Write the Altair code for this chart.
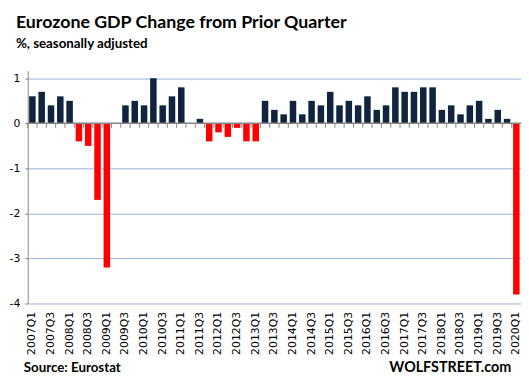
import altair as alt
import pandas as pd

quarters = [f"{y}Q{q}" for y in range(2007, 2021) for q in range(1, 5)][:53]
values = [
    0.6, 0.7, 0.4, 0.6,      # 2007
    0.5, -0.4, -0.5, -1.7,   # 2008
    -3.2, 0.0, 0.4, 0.5,     # 2009
    0.4, 1.0, 0.4, 0.6,      # 2010
    0.8, 0.0, 0.1, -0.4,     # 2011
    -0.2, -0.3, -0.1, -0.4,  # 2012
    -0.4, 0.5, 0.3, 0.2,     # 2013
    0.5, 0.2, 0.5, 0.4,      # 2014
    0.7, 0.4, 0.5, 0.4,      # 2015
    0.6, 0.3, 0.4, 0.8,      # 2016
    0.7, 0.7, 0.8, 0.8,      # 2017
    0.3, 0.4, 0.2, 0.4,      # 2018
    0.5, 0.1, 0.3, 0.1,      # 2019
    -3.8,                    # 2020
]
shown_labels = [q for q in quarters if q.endswith("Q1") or q.endswith("Q3")]
y_ticks = [1, 0, -1, -2, -3, -4]

title_text = "Eurozone GDP Change from Prior Quarter"
subtitle_text = "%, seasonally adjusted"
source_text = "Source: Eurostat"
brand_text = "WOLFSTREET.com"

df = pd.DataFrame({"quarter": quarters, "value": values})
df["sign"] = ["neg" if v < 0 else "pos" for v in values]

W, H = 500, 236
step = W / 53.0

xscale = alt.Scale(domain=quarters, paddingInner=0.3, paddingOuter=0.15)
yscale = alt.Scale(domain=[-4, 1.17], nice=False, zero=False)

bars = alt.Chart(df).mark_bar().encode(
    x=alt.X("quarter:N", scale=xscale, sort=quarters, title=None,
            axis=alt.Axis(values=shown_labels, labelAngle=-90, labelPadding=8,
                          labelFont="DejaVu Sans", labelFontSize=11, labelColor="#000000",
                          ticks=False, domain=False, grid=False)),
    y=alt.Y("value:Q", scale=yscale, title=None,
            axis=alt.Axis(values=y_ticks, labelExpr="'' + datum.value",
                          labelFont="DejaVu Sans", labelFontSize=11,
                          labelColor="#000000", labelPadding=5, tickSize=3,
                          tickColor="#868686", domainColor="#868686",
                          grid=True, gridColor="#95B3D7", gridWidth=1)),
    color=alt.Color("sign:N", scale=alt.Scale(domain=["pos", "neg"],
                                              range=["#10243E", "#FF0000"]), legend=None),
)

zero_df = pd.DataFrame({"z": [0]})
zero_line = alt.Chart(zero_df).mark_rule(color="#868686", strokeWidth=1.5).encode(
    y=alt.Y("z:Q", scale=yscale)
)

ticks = alt.Chart(df).mark_rule(color="#868686", strokeWidth=1, xOffset=-0.15 * step).encode(
    x=alt.X("quarter:N", scale=xscale, sort=quarters, bandPosition=0),
    y=alt.datum(0),
    y2=alt.datum(-0.1),
)

def label(text, x, y, size, align="left"):
    return alt.Chart(pd.DataFrame({"t": [text]})).mark_text(
        font="Lato", fontWeight="bold", fontSize=size, align=align,
        baseline="alphabetic", color="#000000"
    ).encode(text="t:N", x=alt.value(x), y=alt.value(y))

chart = alt.layer(
    bars, zero_line, ticks,
    label(title_text, -12, -43, 18),
    label(subtitle_text, -12, -23, 13.5),
    label(source_text, -4, 305, 13.5),
    label(brand_text, 490, 305, 14.5, align="right"),
).properties(
    width=W, height=H,
    autosize=alt.AutoSizeParams(type="none"),
    padding={"left": 20, "top": 61, "right": 0, "bottom": 73},
).configure_view(stroke=None)

chart.save("out.html", embed_options={"renderer": "svg", "actions": False})
